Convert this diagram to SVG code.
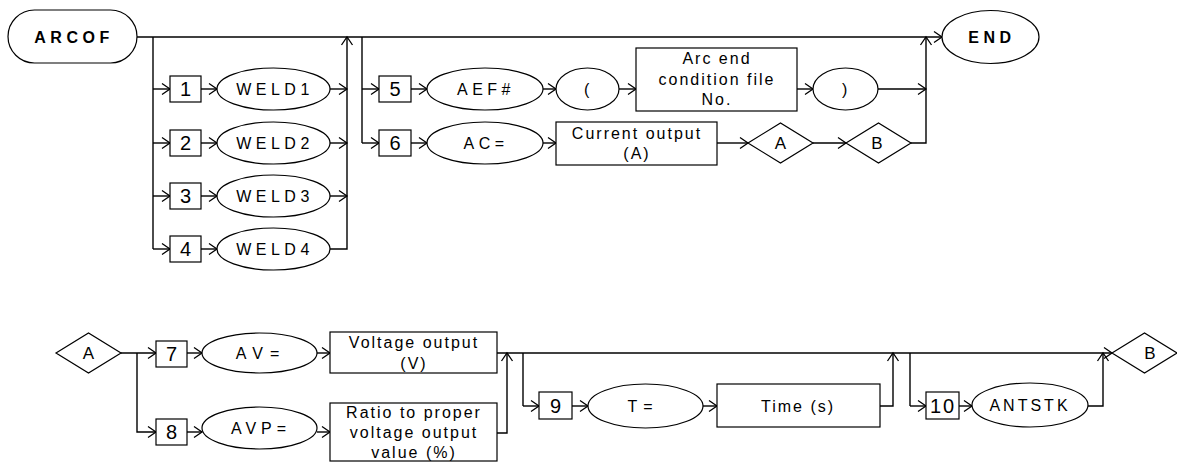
<svg xmlns="http://www.w3.org/2000/svg" width="1177" height="462" viewBox="0 0 1177 462">
<defs>
<marker id="arr" markerUnits="userSpaceOnUse" markerWidth="12" markerHeight="12" refX="8" refY="0" viewBox="-1 -6 10 12" orient="auto" overflow="visible">
<path d="M0,-5.5 L8,0 L0,5.5" fill="none" stroke="#000" stroke-width="1.3"/>
</marker>
<style>
.s{fill:#fff;stroke:#000;stroke-width:1.2}
.c{fill:none;stroke:#000;stroke-width:1.4}
.a{marker-end:url(#arr)}
text{font-family:"Liberation Sans",Arial,sans-serif;fill:#000;text-anchor:middle}
.t{font-size:16px;letter-spacing:4.5px}
.b{font-size:16px;letter-spacing:2px}
.n{font-size:20px}
.k{font-size:16px;font-weight:bold;letter-spacing:4.5px}
.d{font-size:17px}
</style>
</defs>
<g id="connectors">
<!-- top main line -->
<path class="c a" d="M137,37 H942"/>
<path class="c" d="M153,37 V249"/>
<path class="c a" d="M153,89 H170"/>
<path class="c a" d="M153,143 H170"/>
<path class="c a" d="M153,196 H170"/>
<path class="c a" d="M153,249 H170"/>
<path class="c a" d="M201,89 H217"/>
<path class="c a" d="M201,143 H217"/>
<path class="c a" d="M201,196 H217"/>
<path class="c a" d="M201,249 H217"/>
<path class="c a" d="M330,89 H347"/>
<path class="c a" d="M330,143 H347"/>
<path class="c a" d="M330,196 H347"/>
<path class="c a" d="M330,249 H347 V37"/>
<path class="c" d="M362,37 V143"/>
<path class="c a" d="M362,89 H379"/>
<path class="c a" d="M362,143 H379"/>
<path class="c a" d="M411,89 H427"/>
<path class="c a" d="M543,89 H556"/>
<path class="c a" d="M619,89 H636"/>
<path class="c a" d="M797,89 H813"/>
<path class="c a" d="M878,89 H926"/>
<path class="c a" d="M411,143 H427"/>
<path class="c a" d="M543,143 H556"/>
<path class="c a" d="M717,143 H748"/>
<path class="c a" d="M813,143 H846"/>
<path class="c a" d="M911,143 H926 V37"/>
<!-- bottom -->
<path class="c a" d="M121,353 H156"/>
<path class="c a" d="M137,353 V432 H156"/>
<path class="c a" d="M187,353 H202"/>
<path class="c a" d="M187,432 H202"/>
<path class="c a" d="M317,353 H330"/>
<path class="c a" d="M317,432 H330"/>
<path class="c a" d="M497,353 H1112"/>
<path class="c a" d="M497,433 H507 V353"/>
<path class="c" d="M523,353 V406"/>
<path class="c a" d="M523,406 H539"/>
<path class="c a" d="M572,406 H588"/>
<path class="c a" d="M703,406 H717"/>
<path class="c a" d="M880,406 H893 V353"/>
<path class="c" d="M910,353 V406"/>
<path class="c a" d="M910,406 H926"/>
<path class="c a" d="M959,406 H972"/>
<path class="c a" d="M1088,406 H1103 V353"/>
</g>
<g id="arcof"><rect class="s" x="8" y="10" width="129" height="53" rx="26.5"/><text class="k" x="74" y="43">ARCOF</text></g>
<g id="end"><ellipse class="s" cx="990.5" cy="37" rx="48.5" ry="26.5"/><text class="k" x="992" y="43">END</text></g>
<g id="n1"><rect class="s" x="170" y="76" width="31" height="26"/><text class="n" x="185.5" y="96">1</text></g>
<g id="n2"><rect class="s" x="170" y="130" width="31" height="26"/><text class="n" x="185.5" y="150">2</text></g>
<g id="n3"><rect class="s" x="170" y="183" width="31" height="26"/><text class="n" x="185.5" y="203">3</text></g>
<g id="n4"><rect class="s" x="170" y="236" width="31" height="26"/><text class="n" x="185.5" y="256">4</text></g>
<g id="weld1"><ellipse class="s" cx="273.5" cy="89" rx="56.5" ry="21"/><text class="t" x="275" y="95">WELD1</text></g>
<g id="weld2"><ellipse class="s" cx="273.5" cy="143" rx="56.5" ry="21"/><text class="t" x="275" y="149">WELD2</text></g>
<g id="weld3"><ellipse class="s" cx="273.5" cy="196" rx="56.5" ry="21"/><text class="t" x="275" y="202">WELD3</text></g>
<g id="weld4"><ellipse class="s" cx="273.5" cy="249" rx="56.5" ry="21"/><text class="t" x="275" y="255">WELD4</text></g>
<g id="n5"><rect class="s" x="379" y="76" width="32" height="26"/><text class="n" x="395" y="96">5</text></g>
<g id="n6"><rect class="s" x="379" y="130" width="32" height="26"/><text class="n" x="395" y="150">6</text></g>
<g id="aef"><ellipse class="s" cx="485" cy="89" rx="58" ry="21"/><text class="t" x="486" y="95">AEF#</text></g>
<g id="lpar"><ellipse class="s" cx="587.5" cy="89" rx="31.5" ry="21"/><text class="t" x="589" y="95">(</text></g>
<g id="arcend"><rect class="s" x="636" y="48" width="161" height="63"/><text class="b" x="717" y="64">Arc end</text><text class="b" x="717" y="85">condition file</text><text class="b" x="717" y="105">No.</text></g>
<g id="rpar"><ellipse class="s" cx="845.5" cy="89" rx="32.5" ry="21"/><text class="t" x="847" y="95">)</text></g>
<g id="ac"><ellipse class="s" cx="485" cy="143" rx="58" ry="21"/><text class="t" x="486" y="149">AC=</text></g>
<g id="current"><rect class="s" x="556" y="122" width="161" height="43"/><text class="b" x="637" y="139">Current output</text><text class="b" x="637" y="159">(A)</text></g>
<g id="da1"><path class="s" d="M748,143 L780.5,123 L813,143 L780.5,163 Z"/><text class="d" x="780.5" y="149">A</text></g>
<g id="db1"><path class="s" d="M846,143 L878.5,123 L911,143 L878.5,163 Z"/><text class="d" x="877" y="149">B</text></g>
<g id="da2"><path class="s" d="M56,353 L88.5,333 L121,353 L88.5,373 Z"/><text class="d" x="88.5" y="359">A</text></g>
<g id="n7"><rect class="s" x="156" y="341" width="31" height="26"/><text class="n" x="171.5" y="361">7</text></g>
<g id="n8"><rect class="s" x="156" y="419" width="31" height="26"/><text class="n" x="171.5" y="439">8</text></g>
<g id="av"><ellipse class="s" cx="259.5" cy="353" rx="57.5" ry="20"/><text class="t" x="261" y="359" style="letter-spacing:7px">AV=</text></g>
<g id="avp"><ellipse class="s" cx="259.5" cy="428" rx="57.5" ry="21"/><text class="t" x="261" y="434" style="letter-spacing:5px">AVP=</text></g>
<g id="voltage"><rect class="s" x="330" y="332" width="167" height="41"/><text class="b" x="414" y="348">Voltage output</text><text class="b" x="414" y="369">(V)</text></g>
<g id="ratio"><rect class="s" x="330" y="403" width="167" height="58"/><text class="b" x="414" y="418">Ratio to proper</text><text class="b" x="414" y="438">voltage output</text><text class="b" x="414" y="458">value (%)</text></g>
<g id="n9"><rect class="s" x="539" y="392" width="33" height="27"/><text class="n" x="555.5" y="413">9</text></g>
<g id="t"><ellipse class="s" cx="645.5" cy="406" rx="57.5" ry="22"/><text class="t" x="643" y="412" style="letter-spacing:6px">T=</text></g>
<g id="time"><rect class="s" x="717" y="384" width="163" height="43"/><text class="b" x="798" y="412">Time (s)</text></g>
<g id="n10"><rect class="s" x="926" y="392" width="33" height="27"/><text class="n" x="943" y="413" style="letter-spacing:2px">10</text></g>
<g id="antstk"><ellipse class="s" cx="1030" cy="405" rx="58" ry="22"/><text class="t" x="1030" y="411" style="letter-spacing:3px">ANTSTK</text></g>
<g id="db2"><path class="s" d="M1112,353 L1144.5,333 L1177,353 L1144.5,373 Z"/><text class="d" x="1150" y="359">B</text></g>
</svg>
